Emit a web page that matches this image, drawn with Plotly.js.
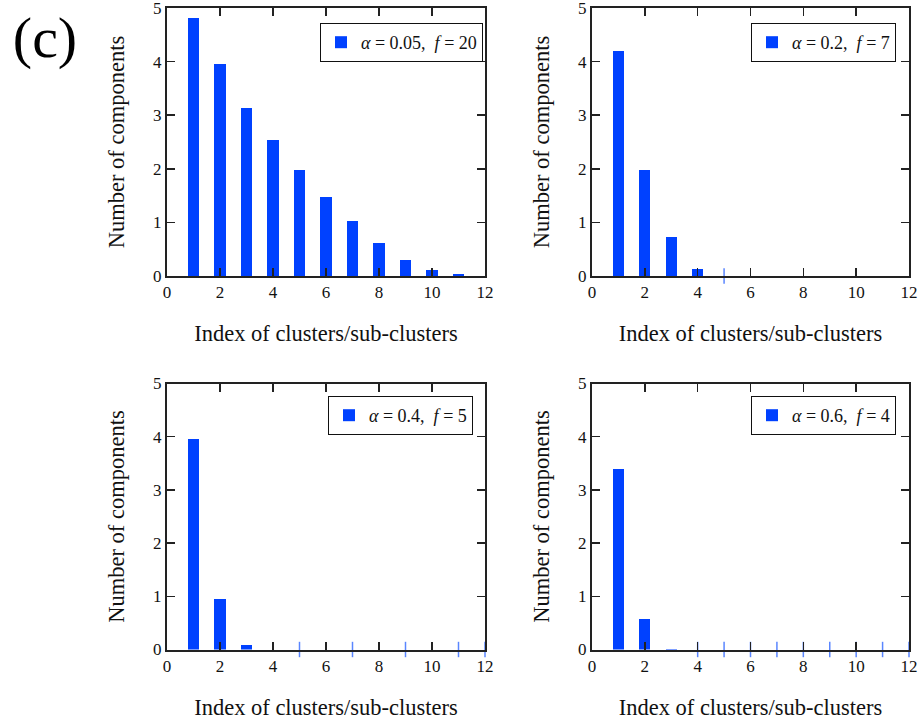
<!DOCTYPE html>
<html>
<head>
<meta charset="utf-8">
<script src="https://cdn.plot.ly/plotly-3.0.1.min.js"></script>
<style>html,body{margin:0;padding:0;background:#fff;}#chart{width:918px;height:723px;}</style>
</head>
<body>
<div id="chart"></div>
<script>
// ---- data ----
const clusterIndex = [1, 2, 3, 4, 5, 6, 7, 8, 9, 10, 11, 12];
const compsA005 = [4.82, 3.96, 3.13, 2.54, 1.97, 1.48, 1.03, 0.61, 0.30, 0.11, 0.03, 0.005];
const compsA02  = [4.19, 1.97, 0.73, 0.13, 0, 0, 0, 0, 0, 0, 0, 0];
const compsA04  = [3.95, 0.95, 0.09, 0, 0, 0, 0, 0, 0, 0, 0, 0];
const compsA06  = [3.40, 0.58, 0.01, 0, 0, 0, 0, 0, 0, 0, 0, 0];
const legendNames = [
  '<i>α</i> = 0.05,  <i>f</i> = 20',
  '<i>α</i> = 0.2,  <i>f</i> = 7',
  '<i>α</i> = 0.4,  <i>f</i> = 5',
  '<i>α</i> = 0.6,  <i>f</i> = 4'
];
// stray zero-height marks on the x axis
const strayX2 = [5];
const strayX3 = [5, 7, 9, 11, 12];
const strayX4 = [4, 5, 6, 7, 8, 9, 10, 11, 12];
const panelLabel = '(c)';
const xTitle = 'Index of clusters/sub-clusters';
const yTitle = 'Number of components';

const BLUE = '#0041ff';
const FONT = 'Liberation Serif';
const series = [compsA005, compsA02, compsA04, compsA06];
const strays = [[], strayX2, strayX3, strayX4];
const mkFont = (size) => ({family: FONT, size: size, color: '#111', weight: 'normal', style: 'normal', variant: 'normal'});

const traces = [];
series.forEach((vals, i) => {
  const n = i === 0 ? '' : String(i + 1);
  traces.push({
    type: 'bar', x: clusterIndex, y: vals, width: 0.42,
    marker: {color: BLUE, line: {width: 0}},
    name: legendNames[i],
    xaxis: 'x' + n, yaxis: 'y' + n,
    legend: i === 0 ? 'legend' : 'legend' + (i + 1),
    cliponaxis: false
  });
  if (strays[i].length) {
    traces.push({
      type: 'scatter', mode: 'markers', x: strays[i], y: strays[i].map(() => 0),
      marker: {symbol: 'line-ns', size: 11, line: {color: '#5a86ff', width: 1.5}},
      showlegend: false, cliponaxis: false,
      xaxis: 'x' + n, yaxis: 'y' + n
    });
  }
});

const W = 918, H = 723;
const boxes = [
  {l: 167, r: 485, t: 8, b: 276},
  {l: 592, r: 909, t: 8, b: 276},
  {l: 167, r: 485, t: 383.5, b: 649.5},
  {l: 592, r: 909, t: 383.5, b: 649.5}
];
const legendPos = [
  {x: 483, y: 23},
  {x: 896, y: 23},
  {x: 473, y: 396},
  {x: 896, y: 396}
];

const layout = {
  width: W, height: H,
  margin: {l: 0, r: 0, t: 0, b: 0},
  paper_bgcolor: '#fff', plot_bgcolor: '#fff',
  font: mkFont(17),
  bargap: 0,
  title: {
    text: panelLabel, xref: 'paper', yref: 'paper', x: 45 / W, y: 1 - 37 / H,
    xanchor: 'center', yanchor: 'middle',
    font: Object.assign(mkFont(58), {color: '#000'})
  }
};

boxes.forEach((b, i) => {
  const n = i === 0 ? '' : String(i + 1);
  layout['xaxis' + n] = {
    domain: [b.l / W, b.r / W], anchor: 'y' + n,
    range: [0, 12], dtick: 2, tick0: 0,
    ticks: 'inside', ticklen: 8, tickwidth: 1.5, tickcolor: '#222',
    showline: true, linecolor: '#222', linewidth: 2, mirror: 'ticks',
    showgrid: false, zeroline: false, ticklabeloverflow: 'allow',
    tickfont: mkFont(17),
    title: {text: xTitle, font: mkFont(22.5), standoff: 24}
  };
  layout['yaxis' + n] = {
    domain: [1 - b.b / H, 1 - b.t / H], anchor: 'x' + n,
    range: [0, 5], dtick: 1, tick0: 0,
    ticks: 'inside', ticklen: 8, tickwidth: 1.5, tickcolor: '#222',
    showline: true, linecolor: '#222', linewidth: 2, mirror: 'ticks',
    showgrid: false, zeroline: false, ticklabeloverflow: 'allow',
    tickfont: mkFont(17),
    title: {text: yTitle, font: mkFont(22.5), standoff: 22}
  };
  const lg = legendPos[i];
  layout[i === 0 ? 'legend' : 'legend' + (i + 1)] = {
    x: lg.x / W, y: 1 - lg.y / H, xanchor: 'right', yanchor: 'top',
    xref: 'paper', yref: 'paper',
    bgcolor: '#fff', bordercolor: '#111', borderwidth: 1,
    font: mkFont(18),
    itemwidth: 30, tracegroupgap: 0
  };
});

Plotly.newPlot('chart', traces, layout, {staticPlot: true, displayModeBar: false});
</script>
</body>
</html>
